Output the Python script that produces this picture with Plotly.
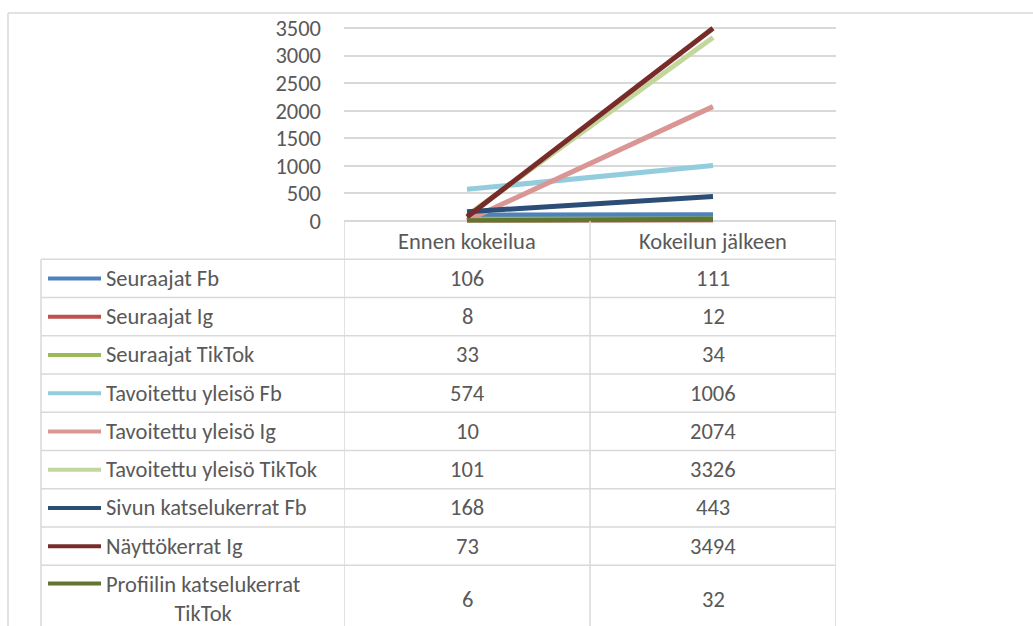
import plotly.graph_objects as go

categories = ["Ennen kokeilua", "Kokeilun jälkeen"]
series_names = [
    "Seuraajat Fb",
    "Seuraajat Ig",
    "Seuraajat TikTok",
    "Tavoitettu yleisö Fb",
    "Tavoitettu yleisö Ig",
    "Tavoitettu yleisö TikTok",
    "Sivun katselukerrat Fb",
    "Näyttökerrat Ig",
    "Profiilin katselukerrat<br>TikTok",
]
before = [106, 8, 33, 574, 10, 101, 168, 73, 6]
after = [111, 12, 34, 1006, 2074, 3326, 443, 3494, 32]
colors = ["#4F81BD", "#C0504D", "#9BBB59", "#93CDDD", "#D99694",
          "#C3D69B", "#2C4D75", "#772C2A", "#5F7530"]
y_ticks = [0, 500, 1000, 1500, 2000, 2500, 3000, 3500]

W, H = 1033, 626
FONT = "Carlito, Calibri, Lato, sans-serif"
FS = 22.5
TXT = "#595959"
GRID = "#D9D9D9"


def px(x):
    return x / W


def py(y):
    return 1 - y / H


# plot area geometry (pixels)
X0, X1 = 344, 836
Y_TOP_PIX, Y_ZERO_PIX = 28, 221
ppu = (Y_ZERO_PIX - Y_TOP_PIX) / 3500.0
ylo, yhi = -25, 3540
dom_bottom = Y_ZERO_PIX - ylo * ppu
dom_top = Y_TOP_PIX - (yhi - 3500) * ppu

fig = go.Figure()
xs = list(range(len(categories)))
for name, b, a, c in zip(series_names, before, after, colors):
    fig.add_trace(go.Scatter(
        x=xs, y=[b, a], mode="lines", name=name.replace("<br>", " "),
        line=dict(color=c, width=5), showlegend=False, hoverinfo="skip"))

shapes = []
annotations = []
LW = 1.5

# outer chart border
shapes.append(dict(type="line", xref="paper", yref="paper",
                   x0=px(8), x1=px(W + 5), y0=py(13), y1=py(13),
                   line=dict(color=GRID, width=LW)))
shapes.append(dict(type="line", xref="paper", yref="paper",
                   x0=px(8), x1=px(8), y0=py(13), y1=py(H + 5),
                   line=dict(color=GRID, width=LW)))

# category header row
HDR_BOT = 259.3
for xv in [-0.5, 0.5, 1.5]:
    shapes.append(dict(type="line", xref="x", yref="paper",
                       x0=xv, x1=xv, y0=py(Y_ZERO_PIX), y1=py(HDR_BOT),
                       line=dict(color=GRID, width=LW)))
for i, cat in enumerate(categories):
    annotations.append(dict(x=i, xref="x", y=py(241), yref="paper",
                            text=cat, showarrow=False, xanchor="center",
                            yanchor="middle",
                            font=dict(family=FONT, size=FS, color=TXT)))

# data table
ROW_H = 38.25
TAB_L = 41
for k in range(len(series_names)):
    yk = HDR_BOT + k * ROW_H
    shapes.append(dict(type="line", xref="paper", yref="paper",
                       x0=px(TAB_L), x1=px(X1), y0=py(yk), y1=py(yk),
                       line=dict(color=GRID, width=LW)))
shapes.append(dict(type="line", xref="paper", yref="paper",
                   x0=px(TAB_L), x1=px(TAB_L), y0=py(HDR_BOT), y1=py(H + 5),
                   line=dict(color=GRID, width=LW)))
for xv in [-0.5, 0.5, 1.5]:
    shapes.append(dict(type="line", xref="x", yref="paper",
                       x0=xv, x1=xv, y0=py(HDR_BOT), y1=py(H + 5),
                       line=dict(color=GRID, width=LW)))

for k, (name, b, a, c) in enumerate(zip(series_names, before, after, colors)):
    top = HDR_BOT + k * ROW_H
    if k == len(series_names) - 1:
        cy = 599
        key_y = 583.5
    else:
        cy = top + ROW_H / 2
        key_y = cy
    shapes.append(dict(type="line", xref="paper", yref="paper",
                       x0=px(48), x1=px(101), y0=py(key_y), y1=py(key_y),
                       line=dict(color=c, width=4)))
    annotations.append(dict(x=px(104), xref="paper", y=py(cy), yref="paper",
                            text=name, showarrow=False, xanchor="left",
                            yanchor="middle", align="center",
                            font=dict(family=FONT, size=FS, color=TXT)))
    for i, v in enumerate([b, a]):
        annotations.append(dict(x=i, xref="x", y=py(cy), yref="paper",
                                text=str(v), showarrow=False,
                                xanchor="center", yanchor="middle",
                                font=dict(family=FONT, size=FS, color=TXT)))

fig.update_layout(
    width=W, height=H,
    margin=dict(l=0, r=0, t=0, b=0, pad=0, autoexpand=False),
    paper_bgcolor="white", plot_bgcolor="white",
    xaxis=dict(domain=[px(X0), px(X1)], range=[-0.5, 1.5],
               showticklabels=False, showgrid=False, zeroline=False,
               showline=False, fixedrange=True, automargin=False),
    yaxis=dict(domain=[py(dom_bottom), py(dom_top)], range=[ylo, yhi],
               tickvals=y_ticks, ticktext=[str(t) for t in y_ticks],
               showgrid=True, gridcolor=GRID, gridwidth=1.5,
               zeroline=False, showline=False, ticks="",
               ticklabelstandoff=22, automargin=False,
               tickfont=dict(family=FONT, size=FS, color=TXT)),
    shapes=shapes,
    annotations=annotations,
    showlegend=False,
)

fig.write_html(
    "out.html",
    post_script="document.body.style.margin='0';document.body.style.overflow='hidden';",
)
